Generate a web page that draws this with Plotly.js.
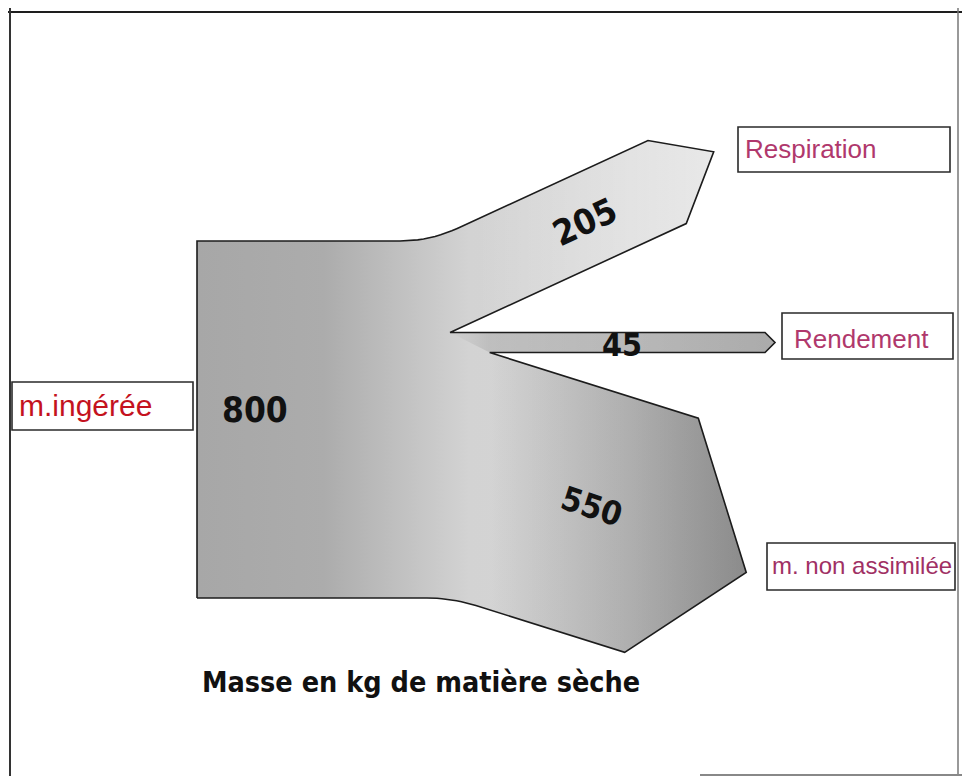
<!DOCTYPE html>
<html><head><meta charset="utf-8">
<script src="https://cdn.plot.ly/plotly-3.0.1.min.js"></script>
<style>html,body{margin:0;padding:0;background:#fff}</style>
</head><body><div id="chart" style="width:962px;height:776px"></div>
<script>
// ---------------- data ----------------
const sourceLabel = 'm.ingérée';
const sourceValue = 800;
const branchLabels = ['Respiration', 'Rendement', 'm. non assimilée'];
const branchValues = [205, 45, 550];
const chartTitle = 'Masse en kg de matière sèche';

// ---------------- layout geometry (diagram units) ----------------
const BLOCK = {left: 197, top: 241, height: 357};
const RESP = {turnX: 430, angleDeg: 24.75, length: 240, depth: 55, bias: 8, round: 30};
const REND = {endX: 765, tip: 10};
const NONA = {turnX: 452, angleDeg: 17.46, length: 181, depth: 92, bias: 10, round: 25};

const add = (a, b) => [a[0] + b[0], a[1] + b[1]];
const mul = (a, s) => [a[0] * s, a[1] * s];
const mid = (a, b) => [(a[0] + b[0]) / 2, (a[1] + b[1]) / 2];
function roundCorner(P, dIn, dOut, r, n) {
  const A = [P[0] - r * dIn[0], P[1] - r * dIn[1]];
  const B = [P[0] + r * dOut[0], P[1] + r * dOut[1]];
  const pts = [];
  for (let i = 0; i <= n; i++) {
    const t = i / n, u = 1 - t;
    pts.push([u*u*A[0] + 2*u*t*P[0] + t*t*B[0], u*u*A[1] + 2*u*t*P[1] + t*t*B[1]]);
  }
  return pts;
}

// scale: flow value -> band width
const k = BLOCK.height / sourceValue;
const wR = branchValues[0] * k, wE = branchValues[1] * k, wN = branchValues[2] * k;
const yTop = BLOCK.top, yE0 = yTop + wR, yN0 = yE0 + wE, yBot = yN0 + wN;

// respiration branch
const aR = RESP.angleDeg * Math.PI / 180;
const dR = [Math.cos(aR), -Math.sin(aR)], nR = [Math.sin(aR), Math.cos(aR)];
const TJ = [RESP.turnX, yTop];
const C1 = add(TJ, mul(dR, RESP.length));
const C2 = add(C1, mul(nR, wR));
const tipR = add(add(mid(C1, C2), mul(dR, RESP.depth)), mul(nR, -RESP.bias));
const sR = (yE0 - C2[1]) / Math.sin(aR);
const N1 = [C2[0] - sR * Math.cos(aR), yE0];

// rendement branch
const E1 = [REND.endX, yE0], E2 = [REND.endX + REND.tip, (yE0 + yN0) / 2], E3 = [REND.endX, yN0];

// non-assimilée branch
const aN = NONA.angleDeg * Math.PI / 180;
const dN = [Math.cos(aN), Math.sin(aN)], nN = [-Math.sin(aN), Math.cos(aN)];
const BJ = [NONA.turnX, yBot];
const D1 = add(BJ, mul(dN, NONA.length));
const D2 = add(D1, mul(nN, -wN));
const tipN = add(add(mid(D1, D2), mul(dN, NONA.depth)), mul(nN, NONA.bias));
const sN = (D2[1] - yN0) / Math.sin(aN);
const N2 = [D2[0] - sN * Math.cos(aN), yN0];

const topRound = roundCorner(TJ, [1, 0], dR, RESP.round, 10);
const botRound = roundCorner(BJ, [-dN[0], -dN[1]], [-1, 0], NONA.round, 10);

const silhouette = [[BLOCK.left, yBot], [BLOCK.left, yTop], ...topRound, C1, tipR, C2, N1,
  E1, E2, E3, N2, D2, tipN, D1, ...botRound, [BLOCK.left, yBot]];
const respPoly = [...topRound, C1, tipR, C2, N1, topRound[0]];
const rendPoly = [N1, E1, E2, E3, N2, N1];
const nonaPoly = [N2, D2, tipN, D1, ...botRound, N2];

const xs = p => p.map(q => q[0]), ys = p => p.map(q => q[1]);
function fillTrace(poly, grad) {
  return {type: 'scatter', mode: 'lines', x: xs(poly), y: ys(poly), fill: 'toself',
    line: {width: 0, color: 'rgba(0,0,0,0)'}, fillgradient: grad, hoverinfo: 'skip', showlegend: false};
}

const traces = [
  fillTrace(silhouette, {type: 'horizontal', start: 197, stop: 775,
    colorscale: [[0, '#a7a7a7'], [0.22, '#acacac'], [0.47, '#d3d3d3'], [0.75, '#d6d6d6'], [1, '#d0d0d0']]}),
  fillTrace(respPoly, {type: 'horizontal', start: 450, stop: 720,
    colorscale: [[0, 'rgba(255,255,255,0)'], [0.1, 'rgba(255,255,255,0)'], [1, 'rgba(255,255,255,0.5)']]}),
  fillTrace(rendPoly, {type: 'horizontal', start: 450, stop: 775,
    colorscale: [[0, 'rgba(0,0,0,0)'], [0.12, 'rgba(0,0,0,0.1)'], [1, 'rgba(0,0,0,0.18)']]}),
  fillTrace(nonaPoly, {type: 'horizontal', start: 452, stop: 750,
    colorscale: [[0, 'rgba(40,40,40,0)'], [0.13, 'rgba(40,40,40,0)'], [1, 'rgba(40,40,40,0.42)']]}),
  {type: 'scatter', mode: 'lines', x: xs(silhouette), y: ys(silhouette),
    line: {color: '#1c1c1c', width: 1.6}, hoverinfo: 'skip', showlegend: false}
];

const numFont = (s) => ({family: 'DejaVu Sans Condensed, Liberation Sans Narrow, sans-serif', size: s, color: '#111', weight: 'bold'});
const boxFont = (s, c) => ({family: 'Liberation Sans, Arial, sans-serif', size: s, color: c});

const annotations = [
  {x: 255, y: 410, text: String(sourceValue), font: numFont(35), textangle: 0},
  {x: 585, y: 222, text: String(branchValues[0]), font: numFont(35), textangle: -25},
  {x: 622, y: 345, text: String(branchValues[1]), font: numFont(32), textangle: 0},
  {x: 592, y: 506, text: String(branchValues[2]), font: numFont(33), textangle: 18},
  {x: 421, y: 682, text: chartTitle, font: numFont(28.5), textangle: 0},
  {x: 17, y: 405, text: sourceLabel, font: boxFont(30, '#c4121e'), xanchor: 'left'},
  {x: 743, y: 149, text: branchLabels[0], font: boxFont(26, '#b0386c'), xanchor: 'left'},
  {x: 792, y: 339, text: branchLabels[1], font: boxFont(26, '#b0386c'), xanchor: 'left'},
  {x: 770, y: 565, text: branchLabels[2], font: boxFont(24, '#a03064'), xanchor: 'left'}
].map(a => Object.assign({xref: 'x', yref: 'y', showarrow: false, xanchor: 'center', yanchor: 'middle'}, a));

const box = (x0, y0, x1, y1) => ({type: 'rect', xref: 'x', yref: 'y', x0, y0, x1, y1,
  line: {color: '#2a2a2a', width: 1.6}, fillcolor: 'rgba(255,255,255,1)', layer: 'below'});
const ln = (x0, y0, x1, y1, w, c) => ({type: 'line', xref: 'x', yref: 'y', x0, y0, x1, y1,
  line: {color: c || '#222', width: w || 2}});

const shapes = [
  ln(8, 12, 962, 12, 2.2, '#1e1e1e'),
  ln(10, 8, 10, 776, 2, '#333'),
  ln(958, 8, 958, 776, 1.5, '#777'),
  ln(700, 775, 962, 775, 2, '#888'),
  box(12, 382, 193, 430),
  box(738, 127, 950, 172),
  box(782, 313, 953, 359),
  box(767, 543, 955, 590)
];

const layout = {
  width: 962, height: 776, margin: {l: 0, r: 0, t: 0, b: 0},
  paper_bgcolor: '#ffffff', plot_bgcolor: '#ffffff',
  xaxis: {range: [0, 962], visible: false, fixedrange: true},
  yaxis: {range: [776, 0], visible: false, fixedrange: true},
  showlegend: false, annotations, shapes
};
Plotly.newPlot('chart', traces, layout, {staticPlot: true, displayModeBar: false});
</script></body></html>
